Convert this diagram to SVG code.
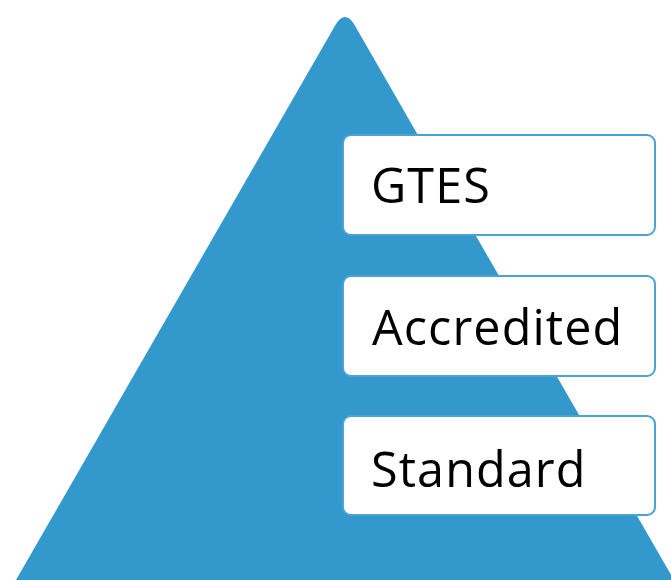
<svg xmlns="http://www.w3.org/2000/svg" width="671" height="580" viewBox="0 0 671 580">
<style>
.box{fill:#ffffff;stroke:#4aa3d4;stroke-width:2}
.lbl{font-family:"Open Sans","Liberation Sans",sans-serif;font-size:48.5px;fill:#000000;letter-spacing:1.1px}
</style>
<rect width="671" height="580" fill="#ffffff"/>
<g id="pyramid">
<path d="M16,580 L336,24 Q345,10 354,24 L674,580 Z" fill="#3399cc"/>
</g>
<g id="connectors"></g>
<g id="gtes">
<rect class="box" x="343" y="135" width="312" height="100" rx="8"/>
<text class="lbl" x="371" y="203">GTES</text>
</g>
<g id="accredited">
<rect class="box" x="343" y="276" width="312" height="100" rx="8"/>
<text class="lbl" x="372" y="345">Accredited</text>
</g>
<g id="standard">
<rect class="box" x="343" y="416" width="312" height="99" rx="8"/>
<text class="lbl" x="371" y="487">Standard</text>
</g>
</svg>
